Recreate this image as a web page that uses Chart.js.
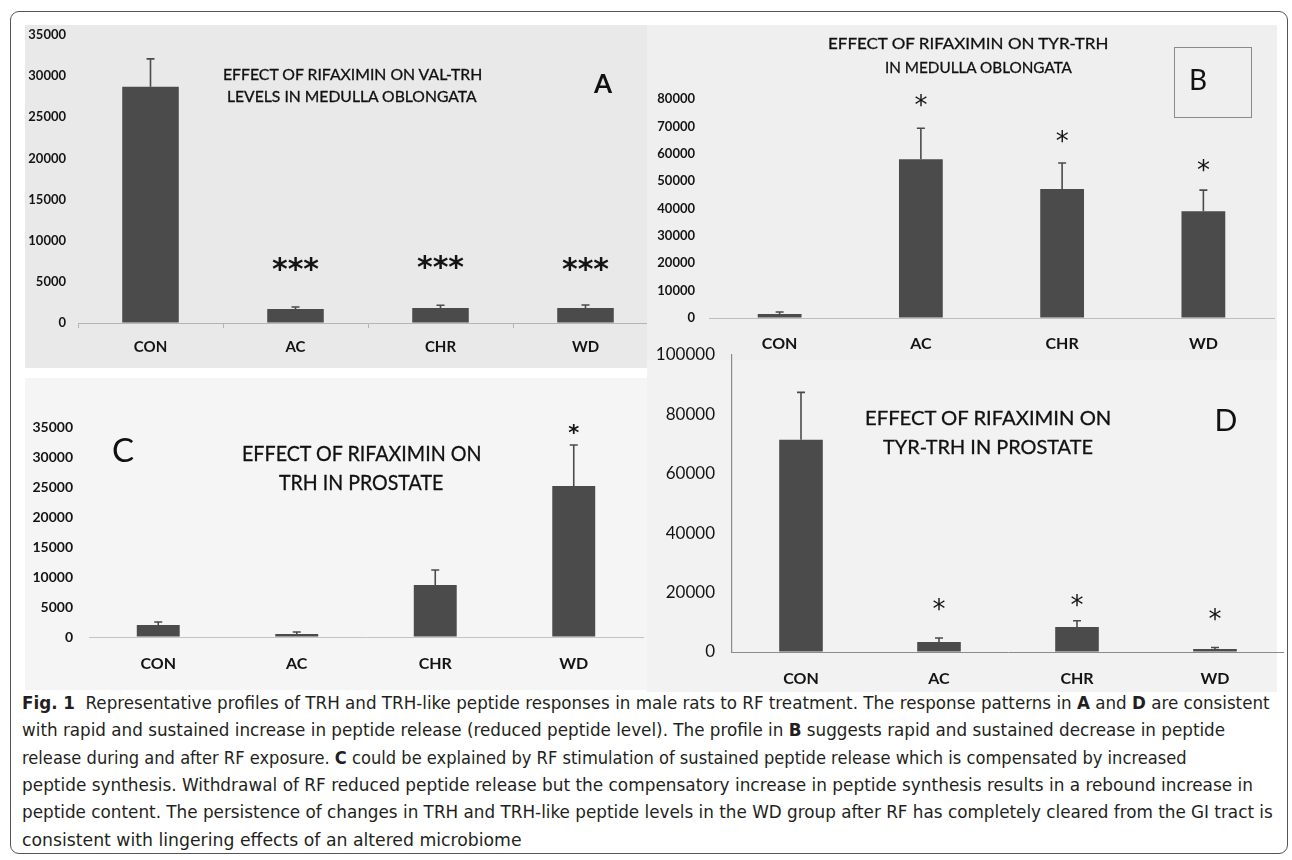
<!DOCTYPE html>
<html>
<head>
<meta charset="utf-8">
<script src="https://cdn.jsdelivr.net/npm/chart.js@4.4.1/dist/chart.umd.min.js"></script>
<style>
body{margin:0;background:#fff;width:1292px;height:860px;position:relative;overflow:hidden;font-family:Lato,sans-serif}
.frame{position:absolute;left:10px;top:11px;width:1278px;height:843px;border:1px solid #555;border-radius:9px;box-sizing:border-box}
.bg,.wrap,canvas{position:absolute}
.wrap{overflow:hidden}
.wrap canvas{left:0;top:0}
.t{position:absolute;white-space:nowrap;transform-origin:0 50%;color:#111;line-height:1;-webkit-text-stroke:0.3px #111}
.letter{position:absolute;line-height:1;color:#111;transform:translate(-50%,0)}
.boxB{position:absolute;left:1174px;top:47px;width:78px;height:71px;border:1px solid #8a8a8a;box-sizing:border-box}
.cap{position:absolute;left:22px;white-space:nowrap;transform-origin:0 50%;font-family:"Liberation Sans Narrow","DejaVu Sans",sans-serif;font-stretch:condensed;font-size:18.5px;color:#231f20;line-height:1}
</style>
</head>
<body>
<div class="frame"></div>
<div class="bg" style="left:25px;top:25px;width:622px;height:343px;background:#e9e9e9"></div>
<div class="bg" style="left:647px;top:25px;width:630px;height:335px;background:#efefef"></div>
<div class="bg" style="left:25px;top:378px;width:622px;height:312px;background:#f5f5f5"></div>
<div class="bg" style="left:647px;top:360px;width:630px;height:332px;background:#f2f2f2"></div>

<div class="wrap" style="left:15px;top:20px;width:632px;height:350px"><canvas id="chartA" width="650" height="350"></canvas></div>
<canvas id="chartB" width="632" height="340" style="left:647px;top:20px"></canvas>
<canvas id="chartC" width="633" height="318" style="left:15px;top:372px"></canvas>
<canvas id="chartD" width="637" height="345" style="left:647px;top:345px"></canvas>

<div class="boxB"></div>
<div id="texts"></div>
<div id="caption"></div>

<script>
const categories = ['CON', 'AC', 'CHR', 'WD'];

// A: Val-TRH in medulla oblongata
const valTrhMedulla = [28700, 1700, 1830, 1830];
const valTrhMedullaErr = [32100, 1950, 2150, 2190];
const valTrhMedullaStars = ['', '***', '***', '***'];
const valTrhMedullaStarAt = [null, 7400, 7650, 7400];
const ticksA = [0, 5000, 10000, 15000, 20000, 25000, 30000, 35000];

// B: Tyr-TRH in medulla oblongata
const tyrTrhMedulla = [1460, 58000, 47100, 39000];
const tyrTrhMedullaErr = [2200, 69300, 56600, 46700];
const tyrTrhMedullaStars = ['', '*', '*', '*'];
const tyrTrhMedullaStarAt = [null, 79900, 66800, 56200];
const ticksB = [0, 10000, 20000, 30000, 40000, 50000, 60000, 70000, 80000];

// C: TRH in prostate
const trhProstate = [2000, 500, 8670, 25170];
const trhProstateErr = [2500, 830, 11170, 32000];
const trhProstateStars = ['', '', '', '*'];
const trhProstateStarAt = [null, null, null, 34800];
const ticksC = [0, 5000, 10000, 15000, 20000, 25000, 30000, 35000];

// D: Tyr-TRH in prostate
const tyrTrhProstate = [71500, 3400, 8400, 1000];
const tyrTrhProstateErr = [87400, 4700, 10500, 1500];
const tyrTrhProstateStars = ['', '*', '*', '*'];
const tyrTrhProstateStarAt = [null, 16500, 17900, 13200];
const ticksD = [0, 20000, 40000, 60000, 80000, 100000];

const BAR = '#4b4b4b';
const INK = '#141414';

// error bars (upper half only) and significance stars
const marks = {
  id: 'marks',
  afterDatasetsDraw(chart, args, o) {
    const ctx = chart.ctx, y = chart.scales.y;
    const meta = chart.getDatasetMeta(0);
    const vals = chart.data.datasets[0].data;
    ctx.save();
    ctx.strokeStyle = BAR;
    ctx.lineWidth = 1.6;
    o.err.forEach((e, i) => {
      const px = meta.data[i].x;
      const y0 = y.getPixelForValue(vals[i]), y1 = y.getPixelForValue(e);
      ctx.beginPath();
      ctx.moveTo(px, y0); ctx.lineTo(px, y1);
      ctx.moveTo(px - o.cap, y1); ctx.lineTo(px + o.cap, y1);
      ctx.stroke();
    });
    ctx.fillStyle = INK;
    ctx.font = o.starFont;
    ctx.textAlign = 'center';
    ctx.textBaseline = 'alphabetic';
    o.stars.forEach((s, i) => {
      if (!s) return;
      const py = y.getPixelForValue(o.starAt[i]);
      ctx.fillText(s, meta.data[i].x, py + o.starShift);
    });
    ctx.restore();
  }
};

function makeChart(id, vals, err, stars, starAt, ticks, p) {
  return new Chart(document.getElementById(id), {
    type: 'bar',
    data: {
      labels: categories,
      datasets: [{ data: vals, backgroundColor: BAR, borderWidth: 0,
        barPercentage: p.barPct, categoryPercentage: 1 }]
    },
    plugins: [marks],
    options: {
      responsive: false,
      animation: false,
      layout: { padding: { top: p.top, right: p.right, left: 0, bottom: 0 } },
      plugins: {
        legend: { display: false },
        tooltip: { enabled: false },
        marks: { err: err, stars: stars, starAt: starAt, cap: 4,
          starFont: p.starFont, starShift: p.starShift }
      },
      scales: {
        x: {
          grid: { display: true, drawOnChartArea: false, drawTicks: p.xTicks, tickLength: 5, color: p.axis, offset: true },
          border: { display: true, color: p.axis, width: 1 },
          ticks: { color: INK, font: { family: 'Lato', size: p.xSize, weight: 'bold' }, padding: p.xPad },
          afterFit: s => { s.height = p.xH; s.paddingLeft = 0; s.paddingRight = 0; }
        },
        y: {
          min: 0, max: ticks[ticks.length - 1],
          afterBuildTicks: s => { s.ticks = ticks.map(v => ({ value: v })); },
          grid: { display: true, drawOnChartArea: false, drawTicks: false, color: p.axis },
          border: { display: p.yBorder, color: p.axis, width: 1.2 },
          ticks: { color: INK, font: { family: 'Lato', size: p.ySize, weight: p.yWeight }, padding: p.yPad,
            callback: v => String(v) },
          afterFit: s => { s.width = p.yW; s.paddingTop = 0; s.paddingBottom = 0; }
        }
      }
    }
  });
}

makeChart('chartA', valTrhMedulla, valTrhMedullaErr, valTrhMedullaStars, valTrhMedullaStarAt, ticksA,
  { barPct: 0.39, top: 15, right: 7, xH: 47, yW: 63, xTicks: true, xSize: 15, xPad: 10, ySize: 13, yWeight: 'bold',
    yPad: 12, yBorder: false, axis: '#b4b4b4', starFont: 'bold 30px "DejaVu Sans"', starShift: 17 });
makeChart('chartB', tyrTrhMedulla, tyrTrhMedullaErr, tyrTrhMedullaStars, tyrTrhMedullaStarAt, ticksB,
  { barPct: 0.31, top: 79, right: 5, xH: 42, yW: 62, xTicks: false, xSize: 16, xPad: 16, ySize: 13, yWeight: 'bold',
    yPad: 14, yBorder: false, axis: '#bdbdbd', starFont: '26px "DejaVu Sans"', starShift: 15 });
makeChart('chartC', trhProstate, trhProstateErr, trhProstateStars, trhProstateStarAt, ticksC,
  { barPct: 0.31, top: 55, right: 5, xH: 53, yW: 74, xTicks: false, xSize: 16, xPad: 17, ySize: 14, yWeight: 'bold',
    yPad: 16, yBorder: false, axis: '#c4c4c4', starFont: 'bold 21px "DejaVu Sans"', starShift: 12 });
makeChart('chartD', tyrTrhProstate, tyrTrhProstateErr, tyrTrhProstateStars, tyrTrhProstateStarAt, ticksD,
  { barPct: 0.316, top: 10, right: 0, xH: 38, yW: 85, xTicks: false, xSize: 16, xPad: 17, ySize: 17, yWeight: 'normal',
    yPad: 17, yBorder: true, axis: '#8c8c8c', starFont: '26px "DejaVu Sans"', starShift: 15 });

// panel titles and letters: [text, left, centreY, targetWidth, size, weight]
const titles = [
  ['EFFECT OF RIFAXIMIN ON VAL-TRH', 223, 75, 259, 15, 400],
  ['LEVELS IN MEDULLA OBLONGATA', 227, 97, 250, 15, 400],
  ['EFFECT OF RIFAXIMIN ON TYR-TRH', 828, 43, 280, 16, 400],
  ['IN MEDULLA OBLONGATA', 885, 67, 187, 16, 400],
  ['EFFECT OF RIFAXIMIN ON', 242, 453, 240, 21, 400],
  ['TRH IN PROSTATE', 279, 482, 164, 21, 400],
  ['EFFECT OF RIFAXIMIN ON', 865, 418, 246, 20, 400],
  ['TYR-TRH IN PROSTATE', 883, 447, 210, 20, 400]
];
const letters = [['A', 603, 84, 26, 700], ['B', 1198, 80, 28, 400], ['C', 123, 450, 33, 400], ['D', 1226, 420, 30, 400]];

const holder = document.getElementById('texts');
titles.forEach(([txt, x, cy, w, size, weight]) => {
  const el = document.createElement('div');
  el.className = 't';
  el.textContent = txt;
  el.style.left = x + 'px';
  el.style.top = (cy - 0.53 * size) + 'px';
  el.style.fontSize = size + 'px';
  el.style.fontWeight = weight;
  holder.appendChild(el);
  el.style.transform = 'scaleX(' + (w / el.offsetWidth) + ')';
});
letters.forEach(([txt, cx, cy, size, weight]) => {
  const el = document.createElement('div');
  el.className = 'letter';
  el.textContent = txt;
  el.style.left = cx + 'px';
  el.style.top = (cy - 0.53 * size) + 'px';
  el.style.fontSize = size + 'px';
  el.style.fontWeight = weight;
  holder.appendChild(el);
});

// caption, one entry per printed line: [html, targetWidth]
const captionLines = [
  ['<b>Fig. 1</b>&nbsp;&nbsp;Representative profiles of TRH and TRH-like peptide responses in male rats to RF treatment. The response patterns in <b>A</b> and <b>D</b> are consistent', 1248],
  ['with rapid and sustained increase in peptide release (reduced peptide level). The profile in <b>B</b> suggests rapid and sustained decrease in peptide', 1203],
  ['release during and after RF exposure. <b>C</b> could be explained by RF stimulation of sustained peptide release which is compensated by increased', 1165],
  ['peptide synthesis. Withdrawal of RF reduced peptide release but the compensatory increase in peptide synthesis results in a rebound increase in', 1231],
  ['peptide content. The persistence of changes in TRH and TRH-like peptide levels in the WD group after RF has completely cleared from the GI tract is', 1251],
  ['consistent with lingering effects of an altered microbiome', 500]
];
const cap = document.getElementById('caption');
captionLines.forEach(([html, w], i) => {
  const el = document.createElement('div');
  el.className = 'cap';
  el.innerHTML = html;
  el.style.top = (703 + i * 27.4 - 0.5 * 18.5) + 'px';
  cap.appendChild(el);
  el.style.transform = 'scaleX(' + (w / el.offsetWidth) + ')';
});
</script>
</body>
</html>
